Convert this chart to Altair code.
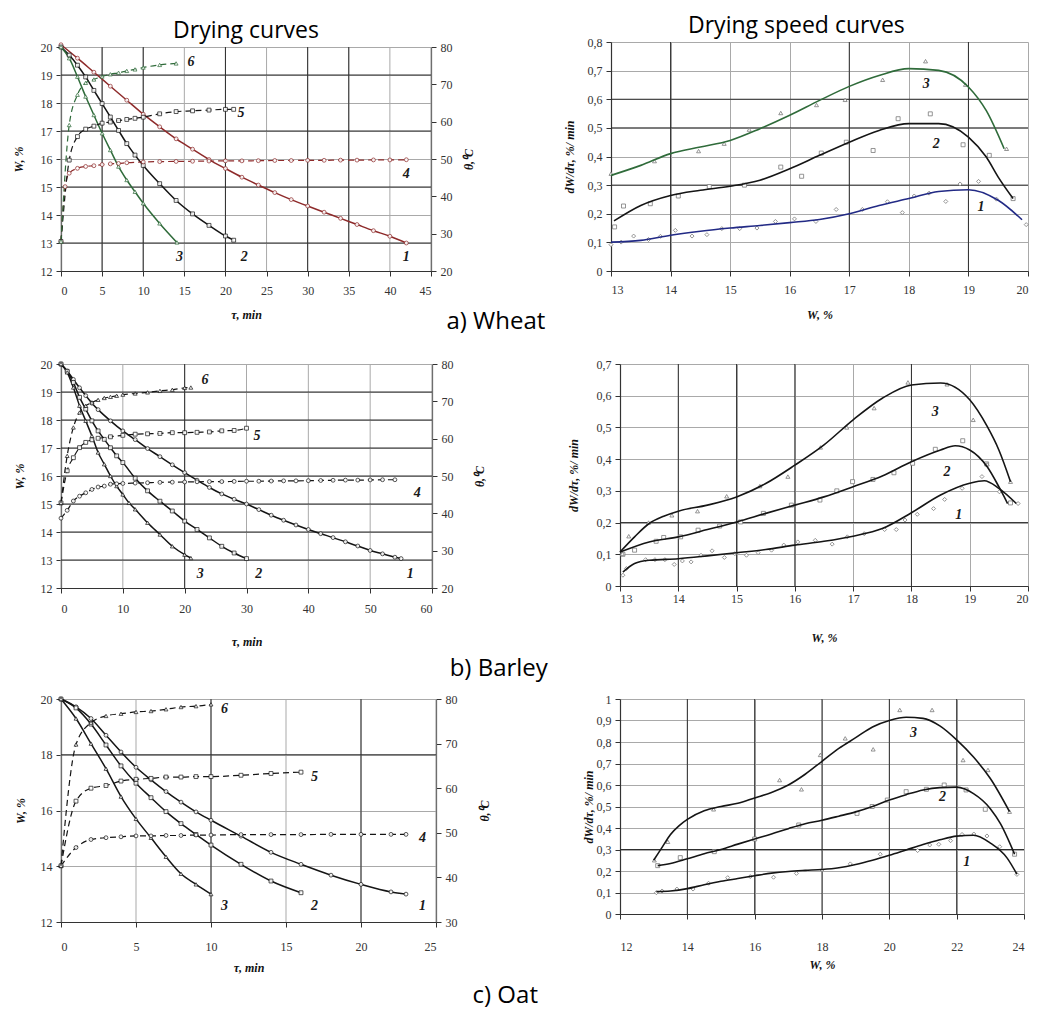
import altair as alt
import pandas as pd

SERIF = "Liberation Serif"
SANS = "Open Sans"

# ---------------- Wheat: drying curves (tau, min -> W, % / theta, C) ----------------
wh_c1_t = [0, 2, 4, 6, 8, 10, 12, 14, 16, 18, 20, 22, 24, 26, 28, 30, 32, 34, 36, 38, 40, 42]
wh_c1_w = [20.08, 19.6, 19.1, 18.6, 18.1, 17.6, 17.15, 16.72, 16.35, 15.98, 15.66, 15.35,
           15.07, 14.8, 14.55, 14.32, 14.1, 13.88, 13.66, 13.44, 13.24, 13.0]
wh_c2_t = [0, 1, 2, 3, 4, 5, 6, 7, 8, 9, 10, 12, 14, 16, 18, 20, 21]
wh_c2_w = [20.0, 19.71, 19.35, 18.93, 18.45, 17.98, 17.5, 17.02, 16.55, 16.14, 15.77, 15.12,
           14.52, 14.04, 13.63, 13.25, 13.1]
wh_c3_t = [0, 1, 2, 3, 4, 5, 6, 7, 8, 9, 10, 12, 14.1]
wh_c3_w = [20.0, 19.6, 18.94, 18.23, 17.57, 16.92, 16.32, 15.73, 15.25, 14.83, 14.42, 13.7, 13.02]
wh_c4_t = [0, 0.5, 1, 2, 3, 4, 5, 6, 7, 8, 10, 12, 14, 16, 18, 20, 22, 24, 26, 28, 30, 32, 34,
           36, 38, 40, 42]
wh_c4_th = [27.9, 42.6, 46.2, 47.5, 48.0, 48.2, 48.5, 48.7, 48.8, 49.0, 49.2, 49.3, 49.35, 49.4,
            49.45, 49.5, 49.5, 49.55, 49.6, 49.6, 49.65, 49.65, 49.7, 49.7, 49.75, 49.75, 49.8]
wh_c5_t = [0, 1, 2, 3, 4, 5, 6, 7, 8, 9, 10, 12, 14, 16, 18, 20, 21]
wh_c5_th = [27.9, 49.7, 56.0, 58.0, 58.8, 59.6, 59.9, 60.3, 60.6, 60.9, 61.2, 62.1, 62.7, 62.9,
            63.1, 63.3, 63.3]
wh_c6_t = [0, 1, 2, 3, 4, 5, 6, 7, 8, 9, 10, 12, 14]
wh_c6_th = [27.9, 59.1, 67.2, 70.4, 71.3, 72.1, 72.7, 73.1, 73.6, 74.0, 74.5, 75.2, 75.6]
wh_lbl_text = ["6", "5", "4", "3", "2", "1"]
wh_lbl_t = [15.8, 21.9, 42.0, 14.4, 22.3, 42.0]
wh_lbl_w = [19.46, 17.64, 15.48, 12.5, 12.5, 12.5]
wh_t_ticks = [0, 5, 10, 15, 20, 25, 30, 35, 40, 45]
wh_w_ticks = [12, 13, 14, 15, 16, 17, 18, 19, 20]
wh_th_ticks = [20, 30, 40, 50, 60, 70, 80]
wh_dark_t = [5, 10, 20, 30, 35]
wh_dark_w = [13, 15, 17, 19]

# ---------------- Wheat: drying speed curves (W, % -> dW/dtau) ----------------
ws_c1_x = [13, 13.5, 14, 14.5, 15, 15.5, 16, 16.5, 17, 17.5, 18, 18.5, 19, 19.5, 19.9]
ws_c1_y = [0.101, 0.107, 0.125, 0.139, 0.15, 0.159, 0.169, 0.18, 0.2, 0.229, 0.253, 0.278,
           0.284, 0.247, 0.179]
ws_c2_x = [13.05, 13.5, 14, 14.5, 15, 15.5, 16, 16.5, 17, 17.5, 18, 18.5, 19, 19.3, 19.5, 19.75]
ws_c2_y = [0.175, 0.229, 0.264, 0.282, 0.296, 0.317, 0.357, 0.404, 0.45, 0.491, 0.515, 0.515,
           0.468, 0.398, 0.328, 0.253]
ws_c3_x = [13, 13.5, 14, 14.5, 15, 15.5, 16, 16.5, 17, 17.5, 18, 18.5, 19, 19.3, 19.6]
ws_c3_y = [0.334, 0.369, 0.41, 0.433, 0.456, 0.497, 0.544, 0.596, 0.645, 0.683, 0.707, 0.701,
           0.643, 0.56, 0.427]
ws_p1_x = [13.0, 13.17, 13.38, 13.63, 13.83, 14.08, 14.36, 14.61, 14.86, 15.16, 15.45, 15.76,
           16.08, 16.44, 16.78, 17.22, 17.64, 17.89, 18.09, 18.34, 18.62, 18.86, 19.17, 19.47, 19.97]
ws_p1_y = [0.092, 0.101, 0.122, 0.11, 0.121, 0.142, 0.122, 0.127, 0.148, 0.148, 0.15, 0.173,
           0.182, 0.173, 0.215, 0.215, 0.242, 0.204, 0.262, 0.272, 0.243, 0.304, 0.313, 0.251, 0.162]
ws_p2_x = [13.06, 13.21, 13.66, 14.13, 14.65, 15.24, 15.85, 16.2, 16.53, 16.95, 17.4, 17.82,
           18.36, 18.91, 19.35, 19.75]
ws_p2_y = [0.154, 0.227, 0.235, 0.262, 0.295, 0.30, 0.363, 0.331, 0.412, 0.45, 0.421, 0.532,
           0.549, 0.441, 0.404, 0.253]
ws_p3_x = [13.0, 13.73, 14.47, 14.9, 15.32, 15.85, 16.45, 16.93, 17.56, 18.28, 18.95, 19.64]
ws_p3_y = [0.34, 0.384, 0.419, 0.445, 0.494, 0.552, 0.58, 0.598, 0.668, 0.733, 0.651, 0.427]
ws_lbl_text = ["3", "2", "1"]
ws_lbl_x = [18.29, 18.46, 19.21]
ws_lbl_y = [0.654, 0.445, 0.224]
ws_x_ticks = [13, 14, 15, 16, 17, 18, 19, 20]
ws_y_ticks = [0, 0.1, 0.2, 0.3, 0.4, 0.5, 0.6, 0.7, 0.8]
ws_dark_x = [14, 17, 19]
ws_dark_y = [0.3, 0.5, 0.6]

# ---------------- Barley: drying curves ----------------
ba_c1_t = [0, 1, 2, 3, 4, 5, 6, 8, 10, 12, 14, 16, 18, 20, 22, 24, 26, 28, 30, 32, 34, 36, 38,
           40, 42, 44, 46, 48, 50, 52, 54, 55]
ba_c1_w = [20.0, 19.75, 19.45, 19.15, 18.87, 18.6, 18.37, 17.97, 17.61, 17.3, 16.98, 16.69, 16.4,
           16.12, 15.85, 15.59, 15.36, 15.17, 15.0, 14.8, 14.6, 14.42, 14.25, 14.09, 13.94, 13.8,
           13.65, 13.5, 13.34, 13.22, 13.1, 13.05]
ba_c2_t = [0, 1, 2, 3, 4, 5, 6, 7, 8, 9, 10, 12, 14, 16, 18, 20, 22, 24, 26, 28, 30]
ba_c2_w = [20.0, 19.74, 19.34, 18.81, 18.39, 17.97, 17.61, 17.31, 17.01, 16.72, 16.48, 15.92,
           15.47, 15.1, 14.75, 14.39, 14.09, 13.79, 13.49, 13.25, 13.05]
ba_c3_t = [0, 1, 2, 3, 4, 5, 6, 7, 8, 9, 10, 11, 12, 14, 16, 18, 20, 21]
ba_c3_w = [20.0, 19.7, 19.16, 18.51, 17.97, 17.43, 16.84, 16.42, 16.0, 15.64, 15.34, 15.04, 14.81,
           14.33, 13.91, 13.49, 13.19, 13.07]
ba_c4_t = [0, 1, 2, 3, 4, 5, 6, 7, 8, 9, 10, 12, 14, 16, 18, 20, 22, 24, 26, 28, 30, 32, 34, 36,
           38, 40, 42, 44, 46, 48, 50, 52, 54]
ba_c4_th = [38.7, 40.8, 43.3, 44.6, 45.5, 46.4, 47.05, 47.3, 47.8, 47.9, 48.0, 48.1, 48.2, 48.3,
            48.35, 48.4, 48.45, 48.5, 48.5, 48.55, 48.6, 48.6, 48.65, 48.7, 48.7, 48.75, 48.8,
            48.85, 48.9, 48.9, 48.95, 49.0, 49.0]
ba_c5_t = [0, 1, 2, 3, 4, 5, 6, 8, 10, 12, 14, 16, 18, 20, 22, 24, 26, 28, 30]
ba_c5_th = [42.8, 51.4, 54.9, 57.6, 59.0, 59.7, 60.1, 60.5, 60.9, 61.2, 61.3, 61.4, 61.6, 61.6,
            61.7, 61.8, 62.1, 62.2, 62.8]
ba_c6_t = [0, 1, 2, 3, 4, 5, 6, 7, 8, 9, 10, 12, 14, 16, 18, 20, 21]
ba_c6_th = [42.8, 55.4, 63.0, 67.0, 68.8, 69.7, 70.4, 70.9, 71.2, 71.5, 71.8, 72.1, 72.4, 72.8,
            73.1, 73.6, 73.7]
ba_lbl_text = ["6", "5", "4", "3", "2", "1"]
ba_lbl_t = [23.3, 31.7, 57.6, 22.5, 32.0, 56.5]
ba_lbl_w = [19.43, 17.43, 15.4, 12.5, 12.5, 12.5]
ba_t_ticks = [0, 10, 20, 30, 40, 50, 60]
ba_w_ticks = [12, 13, 14, 15, 16, 17, 18, 19, 20]
ba_th_ticks = [20, 30, 40, 50, 60, 70, 80]
ba_dark_t = [20]
ba_dark_w = [13, 14, 15, 16, 17, 18, 19]

# ---------------- Barley: drying speed curves ----------------
bs_c1_x = [13.05, 13.25, 13.5, 14, 14.5, 15, 15.5, 16, 16.5, 17, 17.5, 18, 18.5, 19, 19.25, 19.5,
           19.8]
bs_c1_y = [0.044, 0.071, 0.081, 0.086, 0.095, 0.105, 0.115, 0.129, 0.141, 0.157, 0.181, 0.231,
           0.287, 0.324, 0.332, 0.308, 0.26]
bs_c2_x = [13.0, 13.5, 14, 14.5, 15, 15.5, 16, 16.5, 17, 17.5, 18, 18.5, 18.75, 19, 19.3, 19.5,
           19.65]
bs_c2_y = [0.107, 0.139, 0.155, 0.178, 0.202, 0.229, 0.255, 0.281, 0.313, 0.347, 0.392, 0.429,
           0.442, 0.429, 0.376, 0.313, 0.26]
bs_c3_x = [13.0, 13.25, 13.5, 13.75, 14, 14.5, 15, 15.5, 16, 16.5, 17, 17.5, 18, 18.5, 19, 19.3,
           19.5, 19.7]
bs_c3_y = [0.107, 0.155, 0.197, 0.22, 0.236, 0.255, 0.281, 0.323, 0.381, 0.445, 0.524, 0.592,
           0.634, 0.64, 0.587, 0.503, 0.429, 0.329]
bs_p1_x = [13.05, 13.11, 13.44, 13.6, 13.77, 13.93, 14.07, 14.22, 14.39, 14.58, 14.79, 14.97,
           15.17, 15.37, 15.6, 15.81, 16.05, 16.35, 16.64, 16.9, 17.19, 17.54, 17.74, 17.89, 18.1,
           18.38, 18.57, 18.87, 19.21, 19.51, 19.83]
bs_p1_y = [0.034, 0.055, 0.083, 0.083, 0.083, 0.068, 0.079, 0.076, 0.097, 0.111, 0.09, 0.102,
           0.097, 0.105, 0.113, 0.129, 0.139, 0.144, 0.132, 0.155, 0.165, 0.178, 0.178, 0.208,
           0.226, 0.244, 0.273, 0.308, 0.345, 0.297, 0.26]
bs_p2_x = [13.05, 13.25, 13.62, 13.75, 14.04, 14.34, 14.71, 15.07, 15.46, 15.94, 16.43, 16.72,
           16.99, 17.34, 17.7, 18.02, 18.41, 18.88, 19.29, 19.7]
bs_p2_y = [0.1, 0.113, 0.141, 0.153, 0.155, 0.176, 0.189, 0.202, 0.229, 0.255, 0.271, 0.3, 0.329,
           0.336, 0.357, 0.387, 0.431, 0.458, 0.385, 0.262]
bs_p3_x = [13.04, 13.15, 13.49, 13.89, 14.33, 14.83, 15.4, 15.88, 16.44, 16.89, 17.36, 17.94,
           18.61, 19.06, 19.3, 19.7]
bs_p3_y = [0.102, 0.157, 0.2, 0.223, 0.236, 0.283, 0.315, 0.345, 0.437, 0.5, 0.561, 0.642, 0.636,
           0.524, 0.384, 0.329]
bs_lbl_text = ["3", "2", "1"]
bs_lbl_x = [18.41, 18.61, 18.81]
bs_lbl_y = [0.55, 0.36, 0.225]
bs_x_ticks = [13, 14, 15, 16, 17, 18, 19, 20]
bs_y_ticks = [0, 0.1, 0.2, 0.3, 0.4, 0.5, 0.6, 0.7]
bs_dark_x = [14, 15, 16, 18]
bs_dark_y = [0.2]

# ---------------- Oat: drying curves ----------------
oa_c1_t = [0, 1, 2, 3, 4, 5, 6, 7, 8, 9, 10, 12, 14, 16, 18, 20, 22, 23]
oa_c1_w = [20.0, 19.72, 19.3, 18.7, 18.1, 17.55, 17.1, 16.68, 16.3, 15.95, 15.65, 15.08, 14.5,
           14.07, 13.68, 13.35, 13.08, 13.0]
oa_c2_t = [0, 1, 2, 3, 4, 5, 6, 7, 8, 9, 10, 12, 14, 16]
oa_c2_w = [20.0, 19.68, 19.1, 18.35, 17.6, 16.98, 16.46, 15.96, 15.53, 15.14, 14.76, 14.07, 13.47,
           13.05]
oa_c3_t = [0, 1, 2, 3, 4, 5, 6, 7, 8, 9, 10]
oa_c3_w = [20.0, 19.3, 18.4, 17.5, 16.5, 15.7, 15.02, 14.34, 13.73, 13.35, 13.0]
oa_c4_t = [0, 1, 2, 3, 4, 5, 6, 7, 8, 9, 10, 12, 14, 16, 18, 20, 22, 23]
oa_c4_th = [42.6, 46.7, 48.5, 48.9, 49.1, 49.3, 49.3, 49.4, 49.4, 49.5, 49.5, 49.6, 49.6, 49.6,
            49.65, 49.65, 49.65, 49.65]
oa_c5_t = [0, 1, 2, 3, 4, 5, 6, 7, 8, 9, 10, 12, 14, 16]
oa_c5_th = [42.6, 57.1, 60.0, 60.6, 61.6, 62.0, 62.2, 62.5, 62.5, 62.6, 62.6, 62.9, 63.3, 63.6]
oa_c6_t = [0, 1, 2, 3, 4, 5, 6, 7, 8, 9, 10]
oa_c6_th = [42.6, 69.8, 74.7, 76.2, 76.7, 77.1, 77.3, 77.7, 78.2, 78.4, 78.8]
oa_lbl_text = ["6", "5", "4", "3", "2", "1"]
oa_lbl_t = [10.9, 16.9, 24.1, 10.9, 16.9, 24.1]
oa_lbl_w = [19.63, 17.2, 15.02, 12.57, 12.57, 12.57]
oa_t_ticks = [0, 5, 10, 15, 20, 25]
oa_w_ticks = [12, 14, 16, 18, 20]
oa_th_ticks = [30, 40, 50, 60, 70, 80]
oa_dark_t = [10, 20]
oa_dark_w = [18]

# ---------------- Oat: drying speed curves ----------------
os_c1_x = [13.08, 13.5, 14, 14.5, 15, 15.5, 16, 16.5, 17, 17.5, 18, 18.5, 19, 19.5, 20, 20.5, 21,
           21.5, 22, 22.5, 23, 23.5, 23.79]
os_c1_y = [0.104, 0.107, 0.118, 0.136, 0.152, 0.165, 0.178, 0.19, 0.198, 0.203, 0.207, 0.215,
           0.23, 0.25, 0.273, 0.298, 0.323, 0.345, 0.362, 0.366, 0.33, 0.26, 0.185]
os_c2_x = [13.12, 13.5, 14, 14.5, 15, 15.5, 16, 16.5, 17, 17.5, 18, 18.5, 19, 19.5, 20, 20.5, 21,
           21.5, 22, 22.5, 23, 23.3, 23.72]
os_c2_y = [0.225, 0.235, 0.257, 0.28, 0.3, 0.325, 0.349, 0.372, 0.397, 0.42, 0.436, 0.455, 0.475,
           0.5, 0.53, 0.555, 0.577, 0.588, 0.59, 0.56, 0.49, 0.42, 0.278]
os_c3_x = [13.0, 13.25, 13.5, 13.75, 14, 14.5, 15, 15.5, 16, 16.5, 17, 17.5, 18, 18.5, 19, 19.5,
           20, 20.5, 21, 21.5, 22, 22.5, 23, 23.57]
os_c3_y = [0.25, 0.31, 0.37, 0.41, 0.44, 0.48, 0.5, 0.515, 0.54, 0.565, 0.6, 0.65, 0.71, 0.77,
           0.82, 0.87, 0.9, 0.915, 0.91, 0.875, 0.81, 0.73, 0.63, 0.476]
os_p1_x = [13.08, 13.25, 13.69, 14.17, 14.63, 15.2, 15.87, 16.56, 17.24, 18.0, 18.84, 19.73,
           20.84, 21.2, 21.47, 21.82, 22.16, 22.51, 22.9, 23.28, 23.79]
os_p1_y = [0.099, 0.107, 0.116, 0.116, 0.143, 0.169, 0.174, 0.171, 0.189, 0.205, 0.233, 0.278,
           0.295, 0.321, 0.324, 0.341, 0.37, 0.372, 0.363, 0.313, 0.184]
os_p2_x = [13.12, 13.79, 14.8, 16.0, 17.31, 19.04, 19.49, 19.94, 20.5, 21.1, 21.63, 22.28, 22.85,
           23.72]
os_p2_y = [0.225, 0.262, 0.29, 0.349, 0.414, 0.468, 0.5, 0.53, 0.569, 0.58, 0.6, 0.577, 0.487,
           0.278]
os_p3_x = [13.02, 13.42, 14.78, 16.74, 17.39, 17.95, 18.69, 19.52, 20.31, 21.27, 22.19, 22.93,
           23.57]
os_p3_y = [0.25, 0.336, 0.487, 0.623, 0.58, 0.74, 0.817, 0.766, 0.949, 0.949, 0.716, 0.67, 0.476]
os_lbl_text = ["3", "2", "1"]
os_lbl_x = [20.72, 21.58, 22.3]
os_lbl_y = [0.84, 0.543, 0.243]
os_x_ticks = [12, 14, 16, 18, 20, 22, 24]
os_y_ticks = [0, 0.1, 0.2, 0.3, 0.4, 0.5, 0.6, 0.7, 0.8, 0.9, 1]
os_dark_x = [14, 16, 18, 20, 22]
os_dark_y = [0.3]

col_titles = ["Drying curves", "Drying speed curves"]
row_titles = ["a) Wheat", "b) Barley", "c) Oat"]

# ---------------- styling ----------------
RED = "#8e2b2b"
GREEN = "#2f6b3a"
NAVY = "#222a85"
BLK = "#151515"
GRID = "#a9a9a9"
GRID_DARK = "#2e2e2e"
WHEAT_COLORS = [RED, BLK, GREEN, RED, BLK, GREEN]
BLACK_COLORS = [BLK] * 6
WHEAT_SPEED_COLORS = [NAVY, BLK, GREEN]
CURVE_DOM = ["1", "2", "3", "4", "5", "6"]
CURVE_SHAPES = ["circle", "square", "triangle-up", "circle", "square", "triangle-up"]
PT_DOM = ["1", "2", "3"]
PT_SHAPES = ["diamond", "square", "triangle-up"]
SPEED_LABEL = "dW/dτ, %/ min"
COMMA_EXPR = ("datum.value == 0 ? '0' : datum.value == 1 ? '1' : "
              "replace(format(datum.value, '.1f'), '.', ',')")


def long_df(series):
    rows = []
    for name, xs, ys in series:
        for xv, yv in zip(xs, ys):
            rows.append({"x": xv, "y": yv, "c": name})
    return pd.DataFrame(rows)


def label_df(texts, xs, ys):
    return pd.DataFrame({"x": xs, "y": ys, "t": texts})


def label_layer(df, x, y):
    return alt.Chart(df).mark_text(font=SERIF, fontStyle="italic", fontWeight="bold",
                                   fontSize=14, color="#1a1a1a").encode(x=x, y=y, text="t:N")


def grid_rules(xvals, yvals, xdom, ydom, x, y, color):
    vdf = pd.DataFrame({"x": xvals, "y": [ydom[0]] * len(xvals), "y2": [ydom[1]] * len(xvals)})
    hdf = pd.DataFrame({"y": yvals, "x": [xdom[0]] * len(yvals), "x2": [xdom[1]] * len(yvals)})
    v = alt.Chart(vdf).mark_rule(color=color, strokeWidth=1).encode(x=x, y=y, y2="y2:Q")
    h = alt.Chart(hdf).mark_rule(color=color, strokeWidth=1).encode(x=x, x2="x2:Q", y=y)
    return v, h


def drying_panel(w_series, th_series, lbl, tdom, tticks, wdom, wticks, thdom, thticks,
                 dark_t, dark_w, colors, width, height, top_gap, xlp, xtp, wtp, thtp):
    x = alt.X("x:Q", scale=alt.Scale(domain=tdom, nice=False, zero=False),
              axis=alt.Axis(values=tticks, title="τ, min", format="d", grid=False,
                            labelPadding=xlp, titlePadding=xtp))
    yrange = [height, top_gap]
    yw = alt.Y("y:Q", scale=alt.Scale(domain=wdom, nice=False, zero=False, range=yrange),
               axis=alt.Axis(values=wticks, title="W, %", format="d", grid=True,
                             labelPadding=4, titlePadding=wtp))
    yth = alt.Y("y:Q", scale=alt.Scale(domain=thdom, nice=False, zero=False, range=yrange),
                axis=alt.Axis(values=thticks, title="θ,⁰C", format="d", grid=False,
                              orient="right", labelPadding=4, titlePadding=thtp,
                              titleAngle=270))
    stroke = alt.Stroke("c:N", scale=alt.Scale(domain=CURVE_DOM, range=colors), legend=None)
    shape = alt.Shape("c:N", scale=alt.Scale(domain=CURVE_DOM, range=CURVE_SHAPES), legend=None)
    wdf = long_df(w_series)
    thdf = long_df(th_series)
    lv, _ = grid_rules(tticks, [], tdom, wdom, x, yw, GRID)
    dv, dh = grid_rules(dark_t, dark_w, tdom, wdom, x, yw, GRID_DARK)
    w_line = alt.Chart(wdf).mark_line(strokeWidth=1.5, interpolate="monotone").encode(
        x=x, y=yw, stroke=stroke, detail="c:N")
    w_pts = alt.Chart(wdf).mark_point(size=15, filled=False, fill="white", fillOpacity=1,
                                      strokeWidth=0.8, opacity=0.9).encode(
        x=x, y=yw, stroke=stroke, shape=shape)
    w_txt = label_layer(lbl, x, yw)
    th_line = alt.Chart(thdf).mark_line(strokeWidth=1.2, interpolate="monotone",
                                        strokeDash=[6, 4]).encode(
        x=x, y=yth, stroke=stroke, detail="c:N")
    th_pts = alt.Chart(thdf).mark_point(size=15, filled=False, fill="white", fillOpacity=1,
                                        strokeWidth=0.8, opacity=0.9).encode(
        x=x, y=yth, stroke=stroke, shape=shape)
    return alt.layer(alt.layer(lv, dv, dh, w_line, w_pts, w_txt),
                     alt.layer(th_line, th_pts)).resolve_scale(
        y="independent").properties(width=width, height=height)


def speed_panel(line_series, pt_series, lbl, xdom, xticks, ydom, yticks, dark_x, dark_y,
                colors, width, height, xlp, xtp, ytp):
    x = alt.X("x:Q", scale=alt.Scale(domain=xdom, nice=False, zero=False),
              axis=alt.Axis(values=xticks, title="W, %", format="d", grid=True,
                            labelPadding=xlp, titlePadding=xtp))
    y = alt.Y("y:Q", scale=alt.Scale(domain=ydom, nice=False, zero=False),
              axis=alt.Axis(values=yticks, title=SPEED_LABEL, grid=True, labelExpr=COMMA_EXPR,
                            labelPadding=4, titlePadding=ytp))
    ldf = long_df(line_series)
    pdf = long_df(pt_series)
    dv, dh = grid_rules(dark_x, dark_y, xdom, ydom, x, y, GRID_DARK)
    pts = alt.Chart(pdf).mark_point(size=16, filled=False, fill="white", fillOpacity=1,
                                    strokeWidth=0.8, stroke="#7a7a7a").encode(
        x=x, y=y, shape=alt.Shape("c:N", scale=alt.Scale(domain=PT_DOM, range=PT_SHAPES),
                                  legend=None))
    lines = alt.Chart(ldf).mark_line(strokeWidth=1.6, interpolate="monotone").encode(
        x=x, y=y, stroke=alt.Stroke("c:N", scale=alt.Scale(domain=PT_DOM, range=colors),
                                    legend=None), detail="c:N")
    txt = label_layer(lbl, x, y)
    return alt.layer(dv, dh, pts, lines, txt).properties(width=width, height=height)


def col_title(text, offset, frame):
    return alt.TitleParams(text, font=SANS, fontSize=23, fontWeight="normal", color="#000",
                           anchor="middle", frame=frame, offset=offset)


def row_title(text, offset, dx):
    return alt.TitleParams(text, orient="bottom", font=SANS, fontSize=24, fontWeight="normal",
                           color="#000", anchor="middle", offset=offset, dx=dx)


p1 = drying_panel(
    [("1", wh_c1_t, wh_c1_w), ("2", wh_c2_t, wh_c2_w), ("3", wh_c3_t, wh_c3_w)],
    [("4", wh_c4_t, wh_c4_th), ("5", wh_c5_t, wh_c5_th), ("6", wh_c6_t, wh_c6_th)],
    label_df(wh_lbl_text, wh_lbl_t, wh_lbl_w), [0, 45], wh_t_ticks, [12, 20], wh_w_ticks,
    [20, 80], wh_th_ticks, wh_dark_t, wh_dark_w, WHEAT_COLORS, 370, 229, 5, 9, 13, 15, 23
).properties(title=col_title(col_titles[0], -2, "group"))
p2 = speed_panel(
    [("1", ws_c1_x, ws_c1_y), ("2", ws_c2_x, ws_c2_y), ("3", ws_c3_x, ws_c3_y)],
    [("1", ws_p1_x, ws_p1_y), ("2", ws_p2_x, ws_p2_y), ("3", ws_p3_x, ws_p3_y)],
    label_df(ws_lbl_text, ws_lbl_x, ws_lbl_y), [13, 20], ws_x_ticks, [0, 0.8], ws_y_ticks,
    ws_dark_x, ws_dark_y, WHEAT_SPEED_COLORS, 417, 229, 8, 14, 11
).properties(title=col_title(col_titles[1], -2, "bounds"))

p3 = drying_panel(
    [("1", ba_c1_t, ba_c1_w), ("2", ba_c2_t, ba_c2_w), ("3", ba_c3_t, ba_c3_w)],
    [("4", ba_c4_t, ba_c4_th), ("5", ba_c5_t, ba_c5_th), ("6", ba_c6_t, ba_c6_th)],
    label_df(ba_lbl_text, ba_lbl_t, ba_lbl_w), [0, 60], ba_t_ticks, [12, 20], ba_w_ticks,
    [20, 80], ba_th_ticks, ba_dark_t, ba_dark_w, BLACK_COLORS, 371, 224, 0, 10, 22, 14, 33)
p4 = speed_panel(
    [("1", bs_c1_x, bs_c1_y), ("2", bs_c2_x, bs_c2_y), ("3", bs_c3_x, bs_c3_y)],
    [("1", bs_p1_x, bs_p1_y), ("2", bs_p2_x, bs_p2_y), ("3", bs_p3_x, bs_p3_y)],
    label_df(bs_lbl_text, bs_lbl_x, bs_lbl_y), [13, 20], bs_x_ticks, [0, 0.7], bs_y_ticks,
    bs_dark_x, bs_dark_y, [BLK, BLK, BLK], 408, 222, 2, 28, 16)

p5 = drying_panel(
    [("1", oa_c1_t, oa_c1_w), ("2", oa_c2_t, oa_c2_w), ("3", oa_c3_t, oa_c3_w)],
    [("4", oa_c4_t, oa_c4_th), ("5", oa_c5_t, oa_c5_th), ("6", oa_c6_t, oa_c6_th)],
    label_df(oa_lbl_text, oa_lbl_t, oa_lbl_w), [0, 25], oa_t_ticks, [12, 20], oa_w_ticks,
    [30, 80], oa_th_ticks, oa_dark_t, oa_dark_w, BLACK_COLORS, 375, 223, 0, 14, 10, 13, 34)
p6 = speed_panel(
    [("1", os_c1_x, os_c1_y), ("2", os_c2_x, os_c2_y), ("3", os_c3_x, os_c3_y)],
    [("1", os_p1_x, os_p1_y), ("2", os_p2_x, os_p2_y), ("3", os_p3_x, os_p3_y)],
    label_df(os_lbl_text, os_lbl_x, os_lbl_y), [12, 24], os_x_ticks, [0, 1], os_y_ticks,
    os_dark_x, os_dark_y, [BLK, BLK, BLK], 404, 215, 22, 7, 1)

IND = dict(stroke="independent", shape="independent")
row1 = alt.hconcat(p1, p2, spacing=89).resolve_scale(**IND).properties(
    title=row_title(row_titles[0], -10, -25))
row2 = alt.hconcat(p3, p4, spacing=82).resolve_scale(**IND).properties(
    title=row_title(row_titles[1], 10, -22))
row3 = alt.hconcat(p5, p6, spacing=92).resolve_scale(**IND).properties(
    title=row_title(row_titles[2], 11, -14))

lower = alt.vconcat(row2, row3, spacing=12).resolve_scale(**IND)
chart = alt.vconcat(row1, lower, spacing=24).resolve_scale(**IND).properties(
    padding={"left": 4, "top": 7, "right": 0, "bottom": 8}
).configure_view(stroke=None).configure_axis(
    labelFont=SERIF, labelFontSize=12, labelColor="#333", titleFont=SERIF, titleFontSize=12,
    titleFontWeight="bold", titleFontStyle="italic", titleColor="#111", gridColor=GRID,
    gridWidth=1, domainColor="#333", tickColor="#333", tickSize=5, domainWidth=1.2
)

chart.save("out.html", embed_options={"renderer": "svg", "actions": False})
